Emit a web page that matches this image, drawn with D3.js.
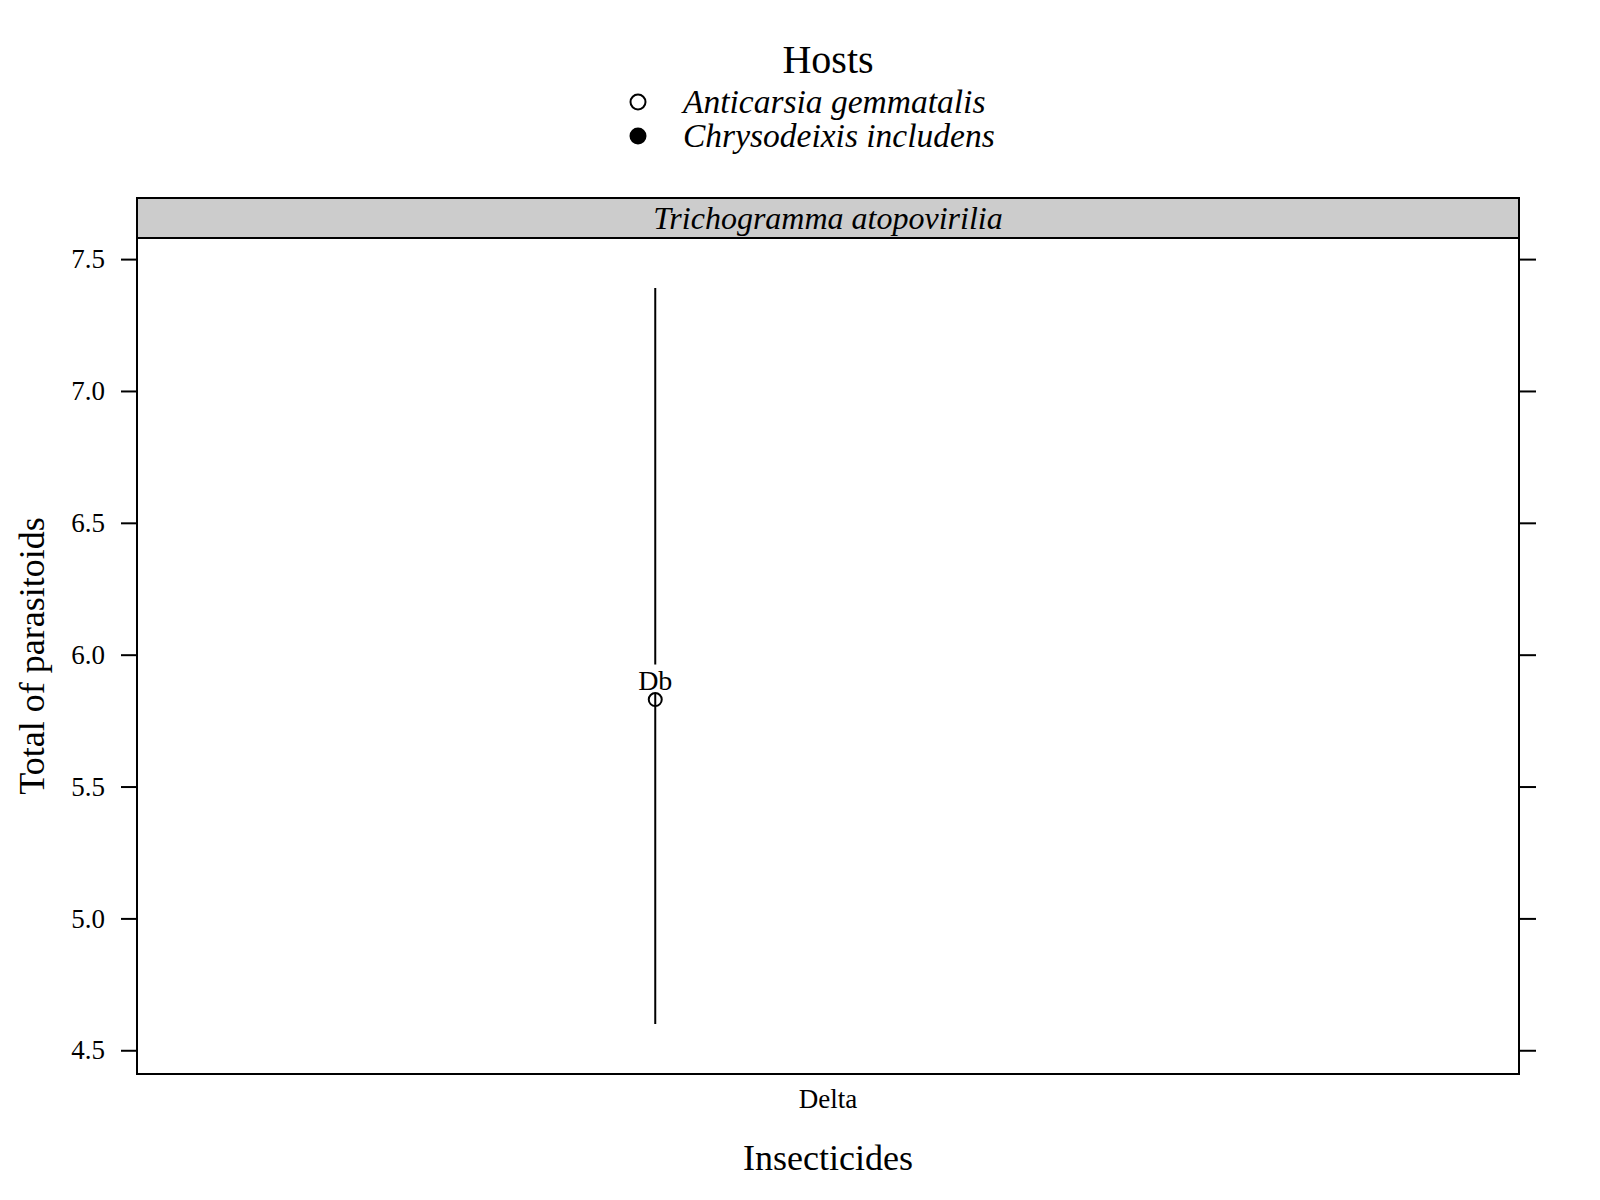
<!DOCTYPE html>
<html>
<head>
<meta charset="utf-8">
<script src="https://cdnjs.cloudflare.com/ajax/libs/d3/7.8.5/d3.min.js"></script>
<style>
  body { margin: 0; background: #fff; }
  svg text { font-family: "Liberation Serif", "DejaVu Serif", serif; fill: #000; }
</style>
</head>
<body>
<svg id="chart"></svg>
<script>
// Data
const insecticides = ["Delta"];
const hosts = ["Anticarsia gemmatalis", "Chrysodeixis includens"];
const hostOffset = [-0.15, 0.15];      // dodge of each host inside a category
const parasitoid = "Trichogramma atopovirilia";
const means = [{insecticide: "Delta", host: "Anticarsia gemmatalis", mean: 5.83, lower: 4.60, upper: 7.39, label: "Db"}];
const yTicks = [4.5, 5.0, 5.5, 6.0, 6.5, 7.0, 7.5];
const yLimits = [4.41, 7.58];

let width = 1600, height = 1200;
let panel = {left: 137, right: 1519, top: 238, bottom: 1074, stripTop: 198};

let svg = d3.select("#chart")
    .attr("width", width)
    .attr("height", height);

// Scales
let x = d3.scaleLinear()
  .domain([0.4, insecticides.length + 0.6])
  .range([panel.left, panel.right]);

let y = d3.scaleLinear()
  .domain(yLimits)
  .range([panel.bottom, panel.top]);

// Legend (key) on top
svg.append("text")
  .attr("x", 828).attr("y", 73)
  .attr("text-anchor", "middle")
  .style("font-size", "40px")
  .text("Hosts");

let key = svg.append("g").selectAll("g")
  .data(hosts)
  .join("g")
    .attr("transform", (d, i) => `translate(638, ${102 + i * 34})`);

key.append("circle")
  .attr("r", 7.5)
  .attr("fill", (d, i) => i === 0 ? "#fff" : "#000")
  .attr("stroke", "#000")
  .attr("stroke-width", 2);

key.append("text")
  .attr("x", 45)
  .attr("dy", "0.34em")
  .style("font-size", "33.5px")
  .style("font-style", "italic")
  .text(d => d);

// Strip
svg.append("rect")
  .attr("x", panel.left).attr("y", panel.stripTop)
  .attr("width", panel.right - panel.left)
  .attr("height", panel.top - panel.stripTop)
  .attr("fill", "#cccccc")
  .attr("stroke", "#000")
  .attr("stroke-width", 2);

svg.append("text")
  .attr("x", (panel.left + panel.right) / 2)
  .attr("y", (panel.stripTop + panel.top) / 2)
  .attr("dy", "0.33em")
  .attr("text-anchor", "middle")
  .style("font-size", "32px")
  .style("font-style", "italic")
  .text(parasitoid);

// Y axes (labels on the left, bare ticks on the right)
let yLeft = svg.append("g")
  .attr("transform", `translate(${panel.left}, 0)`)
  .call(d3.axisLeft(y).tickValues(yTicks).tickFormat(d3.format(".1f")).tickSize(16).tickPadding(16));

let yRight = svg.append("g")
  .attr("transform", `translate(${panel.right}, 0)`)
  .call(d3.axisRight(y).tickValues(yTicks).tickFormat("").tickSize(17));

[yLeft, yRight].forEach(g => {
  g.select(".domain").remove();
  g.selectAll(".tick line").attr("stroke", "#000").attr("stroke-width", 2);
  g.selectAll(".tick text")
    .style("font-family", "Liberation Serif, serif")
    .style("font-size", "27px")
    .attr("fill", "#000");
});

// X category labels
svg.append("g").selectAll("text")
  .data(insecticides)
  .join("text")
    .attr("x", (d, i) => x(i + 1))
    .attr("y", 1108)
    .attr("text-anchor", "middle")
    .style("font-size", "27px")
    .text(d => d);

// Panel border
svg.append("rect")
  .attr("x", panel.left).attr("y", panel.top)
  .attr("width", panel.right - panel.left)
  .attr("height", panel.bottom - panel.top)
  .attr("fill", "none")
  .attr("stroke", "#000")
  .attr("stroke-width", 2);

// Error bars, points and letters
let xPx = d => x(insecticides.indexOf(d.insecticide) + 1 + hostOffset[hosts.indexOf(d.host)]);

let marks = svg.append("g").selectAll("g")
  .data(means)
  .join("g");

marks.append("line")
  .attr("x1", xPx).attr("x2", xPx)
  .attr("y1", d => y(d.upper))
  .attr("y2", d => y(d.lower))
  .attr("stroke", "#000")
  .attr("stroke-width", 2);

// white gap behind the letters, as in the picture
marks.append("rect")
  .attr("x", d => xPx(d) - 4)
  .attr("y", d => y(d.mean) - 35)
  .attr("width", 8)
  .attr("height", 29)
  .attr("fill", "#fff");

marks.append("circle")
  .attr("cx", xPx)
  .attr("cy", d => y(d.mean))
  .attr("r", 6.5)
  .attr("fill", d => hosts.indexOf(d.host) === 0 ? "#fff" : "#000")
  .attr("stroke", "#000")
  .attr("stroke-width", 2);

marks.append("line")
  .attr("x1", xPx).attr("x2", xPx)
  .attr("y1", d => y(d.mean) - 6.5)
  .attr("y2", d => y(d.mean) + 6.5)
  .attr("stroke", "#000")
  .attr("stroke-width", 2);

marks.append("text")
  .attr("x", xPx)
  .attr("y", d => y(d.mean) - 10)
  .attr("text-anchor", "middle")
  .style("font-size", "28px")
  .text(d => d.label);

// Axis titles
svg.append("text")
  .attr("x", (panel.left + panel.right) / 2)
  .attr("y", 1170)
  .attr("text-anchor", "middle")
  .style("font-size", "36px")
  .text("Insecticides");

svg.append("text")
  .attr("transform", `translate(31, ${(panel.top + panel.bottom) / 2}) rotate(-90)`)
  .attr("dy", "0.35em")
  .attr("text-anchor", "middle")
  .style("font-size", "36px")
  .text("Total of parasitoids");
</script>
</body>
</html>
